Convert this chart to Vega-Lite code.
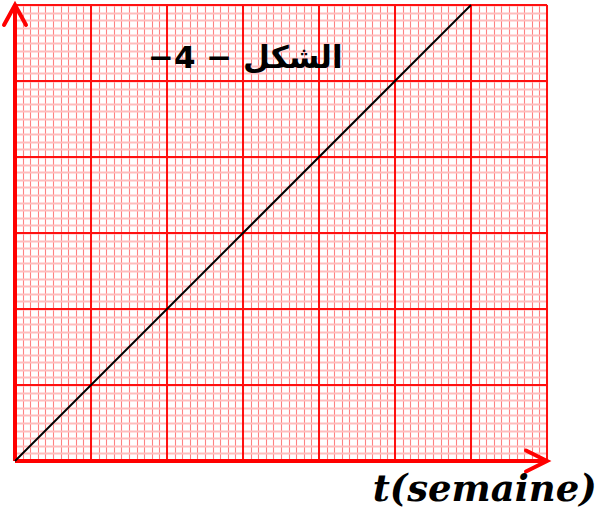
{
  "$schema": "https://vega.github.io/schema/vega-lite/v6.json",
  "width": 532,
  "height": 456,
  "autosize": {"type": "none"},
  "padding": {"left": 15, "top": 5, "right": 53, "bottom": 54},
  "background": "white",
  "config": {
    "view": {"stroke": null},
    "axisX": {"grid": true, "tickCount": 70, "gridColor": "#ff8080", "gridWidth": 1.1, "gridOpacity": 1, "domain": false, "ticks": false, "labels": false},
    "axisY": {"grid": true, "tickCount": 60, "gridColor": "#ffbdbd", "gridWidth": 2, "gridOpacity": 1, "domain": false, "ticks": false, "labels": false}
  },
  "datasets": {
    "droite": [{"t": 0, "v": 0}, {"t": 6, "v": 6}],
    "verticales": [{"t": 0}, {"t": 1}, {"t": 2}, {"t": 3}, {"t": 4}, {"t": 5}, {"t": 6}, {"t": 7}],
    "horizontales": [{"v": 0}, {"v": 1}, {"v": 2}, {"v": 3}, {"v": 4}, {"v": 5}, {"v": 6}],
    "axeV": [{"t": 0}],
    "axeH": [{"v": 0}],
    "flecheHaut": [{"t": 0, "v": 6}],
    "flecheDroite": [{"t": 7, "v": 0}],
    "titre": [{"t": 3.03, "v": 5.17, "label": "−4 − الشكل"}],
    "axeNom": [{"t": 6.18, "v": -0.52, "label": "t(semaine)"}]
  },
  "layer": [
    {
      "data": {"name": "verticales"},
      "mark": {"type": "rule", "color": "#ff1010", "strokeWidth": 2},
      "encoding": {
        "x": {"field": "t", "type": "quantitative", "scale": {"domain": [0, 7], "nice": false, "zero": false}, "title": null}
      }
    },
    {
      "data": {"name": "horizontales"},
      "mark": {"type": "rule", "color": "#ff1010", "strokeWidth": 2},
      "encoding": {
        "y": {"field": "v", "type": "quantitative", "scale": {"domain": [0, 6], "nice": false, "zero": false}, "title": null}
      }
    },
    {
      "data": {"name": "axeV"},
      "mark": {"type": "rule", "color": "#ff0000", "strokeWidth": 4},
      "encoding": {
        "x": {"field": "t", "type": "quantitative", "scale": {"domain": [0, 7], "nice": false, "zero": false}, "title": null}
      }
    },
    {
      "data": {"name": "axeH"},
      "mark": {"type": "rule", "color": "#ff0000", "strokeWidth": 4},
      "encoding": {
        "y": {"field": "v", "type": "quantitative", "scale": {"domain": [0, 6], "nice": false, "zero": false}, "title": null}
      }
    },
    {
      "data": {"name": "droite"},
      "mark": {"type": "line", "color": "black", "strokeWidth": 2},
      "encoding": {
        "x": {"field": "t", "type": "quantitative", "scale": {"domain": [0, 7], "nice": false, "zero": false}, "title": null},
        "y": {"field": "v", "type": "quantitative", "scale": {"domain": [0, 6], "nice": false, "zero": false}, "title": null}
      }
    },
    {
      "data": {"name": "flecheHaut"},
      "mark": {"type": "point", "shape": "M-0.55,1L0,0L0.55,1", "size": 1600, "filled": false, "stroke": "#ff0000", "strokeWidth": 4, "opacity": 1, "strokeCap": "round"},
      "encoding": {
        "x": {"field": "t", "type": "quantitative", "scale": {"domain": [0, 7], "nice": false, "zero": false}, "title": null},
        "y": {"field": "v", "type": "quantitative", "scale": {"domain": [0, 6], "nice": false, "zero": false}, "title": null}
      }
    },
    {
      "data": {"name": "flecheDroite"},
      "mark": {"type": "point", "shape": "M-1,-0.5L0,0L-1,0.5", "size": 1764, "filled": false, "stroke": "#ff0000", "strokeWidth": 4, "opacity": 1, "strokeCap": "round"},
      "encoding": {
        "x": {"field": "t", "type": "quantitative", "scale": {"domain": [0, 7], "nice": false, "zero": false}, "title": null},
        "y": {"field": "v", "type": "quantitative", "scale": {"domain": [0, 6], "nice": false, "zero": false}, "title": null}
      }
    },
    {
      "data": {"name": "titre"},
      "mark": {"type": "text", "font": "DejaVu Sans", "fontWeight": "bold", "fontSize": 31, "color": "black", "align": "center", "baseline": "alphabetic"},
      "encoding": {
        "x": {"field": "t", "type": "quantitative", "scale": {"domain": [0, 7], "nice": false, "zero": false}, "title": null},
        "y": {"field": "v", "type": "quantitative", "scale": {"domain": [0, 6], "nice": false, "zero": false}, "title": null},
        "text": {"field": "label"}
      }
    },
    {
      "data": {"name": "axeNom"},
      "mark": {"type": "text", "font": "DejaVu Serif", "fontWeight": "bold", "fontStyle": "italic", "fontSize": 37, "color": "black", "align": "center", "baseline": "alphabetic"},
      "encoding": {
        "x": {"field": "t", "type": "quantitative", "scale": {"domain": [0, 7], "nice": false, "zero": false}, "title": null},
        "y": {"field": "v", "type": "quantitative", "scale": {"domain": [0, 6], "nice": false, "zero": false}, "title": null},
        "text": {"field": "label"}
      }
    }
  ]
}
